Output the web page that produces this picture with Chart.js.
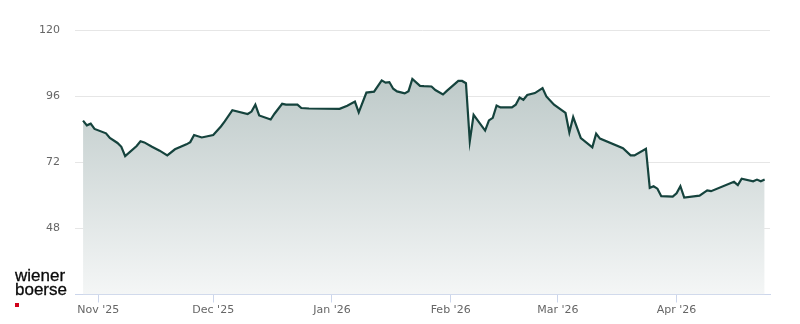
<html>
<head>
    <meta name="viewport" content="width=device-width">
    <script src="https://cdn.jsdelivr.net/npm/chart.js@4/dist/chart.umd.min.js"></script>
    <style>
        *{padding:0; margin:0;}
        body{background:#fff; width:800px; height:324px; overflow:hidden; position:relative;}
        #wrap{position:absolute; left:0; top:0; width:800px; height:324px;}
        #logo{position:absolute; left:15px; top:269px; font-family:"Liberation Sans", Arial, sans-serif; font-size:17px; line-height:14px; color:#0a0a0a; -webkit-text-stroke:0.3px #0a0a0a;}
        #logo .dot{width:4px; height:4px; background:#d0021b; margin-top:6px;}
    </style>
</head>
<body onload="loadChart()">
    <div id="wrap"><canvas id="chart"></canvas></div>
    <div id="logo">wiener<br>boerse<div class="dot"></div></div>
    <script>
        // x = days since 1 Nov 2025
        var days = [-4, -3, -2, -1, 2, 3, 5, 6, 7, 10, 11, 12, 14, 16, 18, 20, 23, 24, 25, 27,
                    30, 32, 33, 35, 39, 40, 41, 42, 45, 46, 48, 49, 52, 53, 55, 63, 65, 67, 68, 70,
                    72, 74, 75, 76, 77, 78, 80, 81, 82, 84, 85, 87, 88, 90, 91, 94, 95, 96, 97, 98,
                    101, 102, 103, 104, 105, 108, 109, 110, 111, 112, 114, 116, 117, 119, 122, 123, 124, 126, 129, 130,
                    131, 137, 139, 140, 143, 144, 145, 146, 147, 150, 151, 152, 153, 157, 159, 160, 166, 167, 168, 171,
                    172, 173, 174];
        var prices = [87.1, 85.4, 86.0, 84.1, 82.5, 80.8, 79.0, 77.6, 74.2, 77.9, 79.6, 79.2, 77.6, 76.2, 74.5, 76.7, 78.5, 79.3, 81.9, 81.0,
                      81.9, 85.0, 86.8, 90.9, 89.5, 90.4, 92.9, 89.0, 87.5, 89.6, 93.2, 92.9, 92.9, 91.7, 91.5, 91.4, 92.5, 94.0, 90.1, 97.3,
                      97.6, 101.7, 100.9, 101.1, 98.7, 97.7, 97.0, 97.8, 102.2, 99.7, 99.6, 99.5, 98.2, 96.6, 97.9, 101.5, 101.5, 100.7, 79.6, 89.2,
                      83.5, 87.2, 88.1, 92.6, 91.9, 91.9, 92.9, 95.5, 94.7, 96.4, 97.1, 98.9, 95.9, 92.9, 89.9, 82.8, 88.4, 80.8, 77.4, 82.4,
                      80.6, 77.1, 74.5, 74.5, 76.9, 62.7, 63.3, 62.4, 59.7, 59.5, 60.7, 63.3, 59.2, 59.9, 61.8, 61.5, 64.9, 63.7, 66.0, 65.1,
                      65.7, 65.1, 65.7];
        var monthDays = [0, 30, 61, 92, 120, 151];
        var monthLabels = ["Nov '25", "Dec '25", "Jan '26", "Feb '26", "Mar '26", "Apr '26"];
        var yTicks = [24, 48, 72, 96, 120];

        var ctx = document.getElementById("chart").getContext("2d");
        var chart = null;

        function areaFill(context) {
            var area = context.chart.chartArea;
            if (!area) return 'rgba(180,193,192,0.6)';
            var g = context.chart.ctx.createLinearGradient(0, area.top, 0, area.bottom);
            g.addColorStop(0, '#b2c0bf');
            g.addColorStop(1, '#f4f6f6');
            return g;
        }

        var config = {
            type: 'line',
            data: {
                datasets: [{
                    data: days.map(function(d, i) { return {x: d, y: prices[i]}; }),
                    borderColor: '#15433d',
                    borderWidth: 2.2,
                    pointRadius: 0,
                    tension: 0,
                    fill: 'start',
                    backgroundColor: areaFill
                }]
            },
            options: {
                responsive: true,
                maintainAspectRatio: false,
                animation: false,
                layout: {padding: {left: 0, right: 30, top: 30, bottom: 0}},
                plugins: {legend: {display: false}, tooltip: {enabled: false}},
                scales: {
                    x: {
                        type: 'linear',
                        min: -6.1,
                        max: 175.4,
                        afterFit: function(s) { s.height = 29.5; },
                        afterBuildTicks: function(s) {
                            s.ticks = monthDays.map(function(v) { return {value: v}; });
                        },
                        grid: {drawOnChartArea: false, drawTicks: true, tickLength: 8, color: '#ccd6eb'},
                        border: {color: '#ccd6eb', width: 1},
                        ticks: {
                            autoSkip: false,
                            maxRotation: 0,
                            padding: 1,
                            color: '#666666',
                            font: {family: 'DejaVu Sans', size: 11},
                            callback: function(v) {
                                var i = monthDays.indexOf(v);
                                return i >= 0 ? monthLabels[i] : '';
                            }
                        }
                    },
                    y: {
                        min: 24,
                        max: 120,
                        afterFit: function(s) { s.width = 75; },
                        afterBuildTicks: function(s) {
                            s.ticks = yTicks.map(function(v) { return {value: v}; });
                        },
                        grid: {
                            drawTicks: false,
                            color: function(c) { return c.tick && c.tick.value === 24 ? 'rgba(0,0,0,0)' : '#e6e6e6'; }
                        },
                        border: {display: false},
                        ticks: {
                            padding: 15,
                            color: '#666666',
                            font: {family: 'DejaVu Sans', size: 11},
                            callback: function(v) { return v === 24 ? '' : v; }
                        }
                    }
                }
            }
        };

        function loadChart() {
            chart = new Chart(ctx, config);
        }
    </script>
</body>
</html>
